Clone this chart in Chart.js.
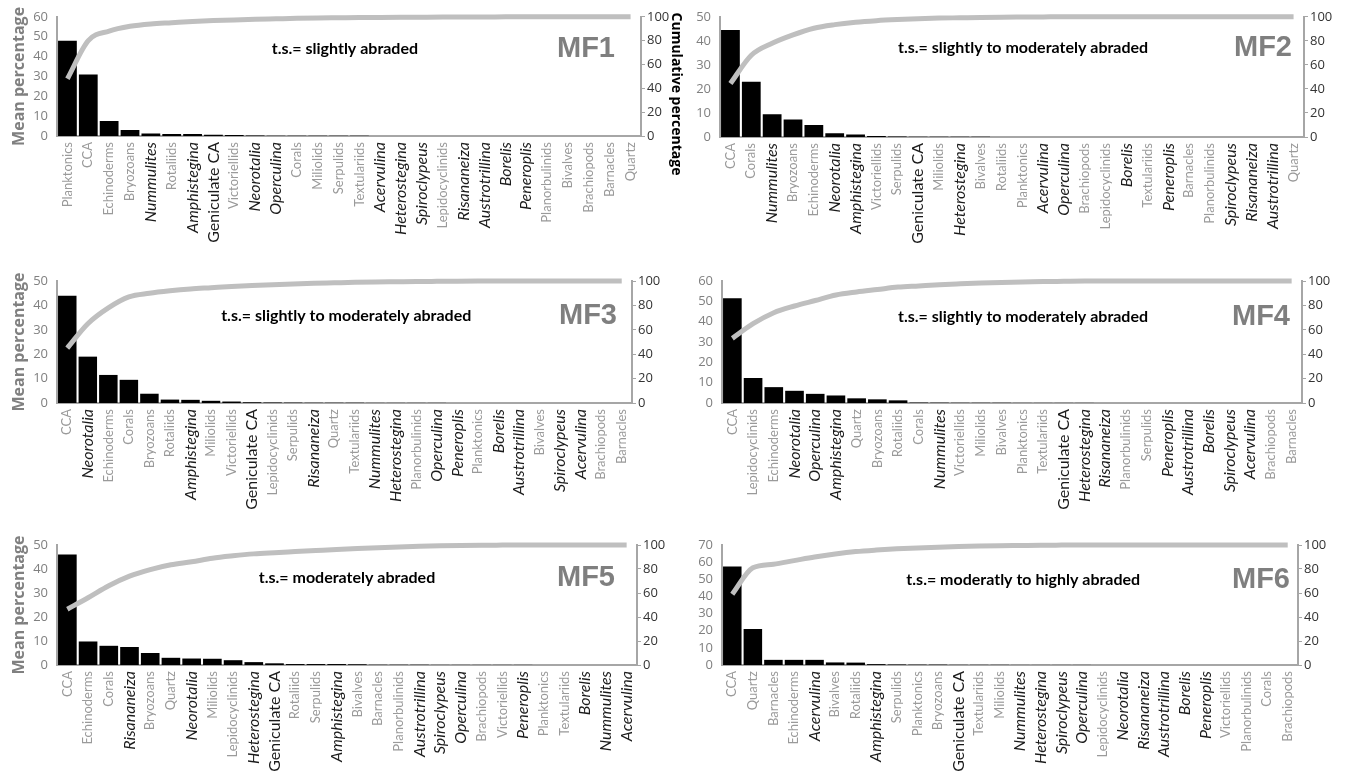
<!DOCTYPE html>
<html>
<head>
<meta charset="utf-8">
<title>Mean and cumulative percentages, MF1-MF6</title>
<script src="https://cdn.jsdelivr.net/npm/chart.js@4.4.1/dist/chart.umd.min.js"></script>
<style>
body { margin: 0; background: #fff; width: 1345px; height: 774px; overflow: hidden; position: relative; }
canvas { position: absolute; }
</style>
</head>
<body>
<canvas id="mf1" width="700" height="262" style="left:0;top:0"></canvas>
<canvas id="mf2" width="680" height="262" style="left:665px;top:0"></canvas>
<canvas id="mf3" width="680" height="254" style="left:0;top:262px"></canvas>
<canvas id="mf4" width="680" height="254" style="left:665px;top:262px"></canvas>
<canvas id="mf5" width="680" height="254" style="left:0;top:520px"></canvas>
<canvas id="mf6" width="680" height="254" style="left:665px;top:520px"></canvas>
<script>
// categories, mean % (bars) and cumulative % (line) for each microfacies
let labels1 = ['Planktonics', 'CCA', 'Echinoderms', 'Bryozoans', 'Nummulites', 'Rotaliids', 'Amphistegina', 'Geniculate CA', 'Victoriellids', 'Neorotalia', 'Operculina', 'Corals', 'Miliolids', 'Serpulids', 'Textulariids', 'Acervulina', 'Heterostegina', 'Spiroclypeus', 'Lepidocyclinids', 'Risananeiza', 'Austrotrillina', 'Borelis', 'Peneroplis', 'Planorbulinids', 'Bivalves', 'Brachiopods', 'Barnacles', 'Quartz'];
let mean1 = [48, 31, 7.5, 3, 1.2, 1, 1, 0.6, 0.5, 0.2, 0.1, 0.1, 0.1, 0.1, 0.1, 0.05, 0.05, 0.05, 0.05, 0.05, 0.05, 0.05, 0.05, 0, 0, 0, 0, 0];
let cum1 = [48, 80, 88, 92, 94, 95, 96, 96.8, 97.4, 97.9, 98.3, 98.7, 99, 99.2, 99.4, 99.5, 99.6, 99.7, 99.8, 99.85, 99.9, 99.95, 100, 100, 100, 100, 100, 100];

let labels2 = ['CCA', 'Corals', 'Nummulites', 'Bryozoans', 'Echinoderms', 'Neorotalia', 'Amphistegina', 'Victoriellids', 'Serpulids', 'Geniculate CA', 'Miliolids', 'Heterostegina', 'Bivalves', 'Rotaliids', 'Planktonics', 'Acervulina', 'Operculina', 'Brachiopods', 'Lepidocyclinids', 'Borelis', 'Textulariids', 'Peneroplis', 'Barnacles', 'Planorbulinids', 'Spiroclypeus', 'Risananeiza', 'Austrotrillina', 'Quartz'];
let mean2 = [44.5, 23, 9.5, 7.3, 5, 1.6, 1, 0.4, 0.2, 0.15, 0.1, 0.1, 0.1, 0.05, 0.05, 0.05, 0.05, 0, 0, 0, 0, 0, 0, 0, 0, 0, 0, 0];
let cum2 = [44.5, 68, 78, 85, 90.5, 93.5, 95.5, 96.8, 97.7, 98.4, 98.9, 99.2, 99.5, 99.7, 99.8, 99.9, 100, 100, 100, 100, 100, 100, 100, 100, 100, 100, 100, 100];

let labels3 = ['CCA', 'Neorotalia', 'Echinoderms', 'Corals', 'Bryozoans', 'Rotaliids', 'Amphistegina', 'Miliolids', 'Victoriellids', 'Geniculate CA', 'Lepidocyclinids', 'Serpulids', 'Risananeiza', 'Quartz', 'Textulariids', 'Nummulites', 'Heterostegina', 'Planorbulinids', 'Operculina', 'Peneroplis', 'Planktonics', 'Borelis', 'Austrotrillina', 'Bivalves', 'Spiroclypeus', 'Acervulina', 'Brachiopods', 'Barnacles'];
let mean3 = [44, 19, 11.5, 9.5, 3.8, 1.4, 1.3, 0.9, 0.6, 0.3, 0.2, 0.15, 0.1, 0.1, 0.1, 0.05, 0.05, 0.05, 0.05, 0, 0, 0, 0, 0, 0, 0, 0, 0];
let cum3 = [45, 65, 78, 87, 90, 92, 93.5, 94.5, 95.5, 96.3, 97, 97.6, 98.1, 98.5, 98.9, 99.2, 99.4, 99.6, 99.7, 99.8, 99.9, 100, 100, 100, 100, 100, 100, 100];

let labels4 = ['CCA', 'Lepidocyclinids', 'Echinoderms', 'Neorotalia', 'Operculina', 'Amphistegina', 'Quartz', 'Bryozoans', 'Rotaliids', 'Corals', 'Nummulites', 'Victoriellids', 'Miliolids', 'Bivalves', 'Planktonics', 'Textulariids', 'Geniculate CA', 'Heterostegina', 'Risananeiza', 'Planorbulinids', 'Serpulids', 'Peneroplis', 'Austrotrillina', 'Borelis', 'Spiroclypeus', 'Acervulina', 'Brachiopods', 'Barnacles'];
let mean4 = [51.5, 12.3, 7.8, 6, 4.5, 3.7, 2.3, 1.8, 1.3, 0.2, 0.15, 0.1, 0.1, 0.1, 0.05, 0.05, 0.05, 0.05, 0, 0, 0, 0, 0, 0, 0, 0, 0, 0];
let cum4 = [53, 65, 74, 79.5, 84, 88.5, 91, 93, 95, 96, 97, 97.7, 98.3, 98.8, 99.2, 99.5, 99.7, 99.9, 100, 100, 100, 100, 100, 100, 100, 100, 100, 100];

let labels5 = ['CCA', 'Echinoderms', 'Corals', 'Risananeiza', 'Bryozoans', 'Quartz', 'Neorotalia', 'Miliolids', 'Lepidocyclinids', 'Heterostegina', 'Geniculate CA', 'Rotaliids', 'Serpulids', 'Amphistegina', 'Bivalves', 'Barnacles', 'Planorbulinids', 'Austrotrillina', 'Spiroclypeus', 'Operculina', 'Brachiopods', 'Victoriellids', 'Peneroplis', 'Planktonics', 'Textulariids', 'Borelis', 'Nummulites', 'Acervulina'];
let mean5 = [46, 9.8, 8, 7.5, 5, 3, 2.7, 2.6, 2, 1.2, 0.7, 0.4, 0.4, 0.4, 0.3, 0.1, 0.1, 0.1, 0.05, 0.05, 0.05, 0.05, 0.05, 0, 0, 0, 0, 0];
let cum5 = [46.5, 56, 66, 74, 79.5, 83.5, 86, 89, 91, 92.6, 93.6, 94.5, 95.4, 96.3, 97.1, 97.8, 98.4, 98.9, 99.3, 99.6, 99.8, 99.9, 100, 100, 100, 100, 100, 100];

let labels6 = ['CCA', 'Quartz', 'Barnacles', 'Echinoderms', 'Acervulina', 'Bivalves', 'Rotaliids', 'Amphistegina', 'Serpulids', 'Planktonics', 'Bryozoans', 'Geniculate CA', 'Textulariids', 'Miliolids', 'Nummulites', 'Heterostegina', 'Spiroclypeus', 'Operculina', 'Lepidocyclinids', 'Neorotalia', 'Risananeiza', 'Austrotrillina', 'Borelis', 'Peneroplis', 'Victoriellids', 'Planorbulinids', 'Corals', 'Brachiopods'];
let mean6 = [57.5, 21, 3, 3, 3, 1.5, 1.4, 0.5, 0.3, 0.2, 0.2, 0.1, 0.1, 0.1, 0.05, 0.05, 0.05, 0.05, 0, 0, 0, 0, 0, 0, 0, 0, 0, 0];
let cum6 = [59, 81, 84, 87, 90, 92.5, 94.5, 95.8, 96.8, 97.6, 98.2, 98.7, 99.1, 99.4, 99.6, 99.8, 99.9, 100, 100, 100, 100, 100, 100, 100, 100, 100, 100, 100];

// genera are written in italics, Geniculate CA is dark but upright
let genera = ['Nummulites', 'Amphistegina', 'Neorotalia', 'Operculina', 'Acervulina', 'Heterostegina', 'Spiroclypeus', 'Risananeiza', 'Austrotrillina', 'Borelis', 'Peneroplis'];
let darkLabels = genera.concat(['Geniculate CA']);

let axisGrey = '#a6a6a6';

// texts inside the plot: abrasion note, MF tag, and the right axis title of MF1
let notesPlugin = {
    id: 'notes',
    afterDraw(chart, args, opts) {
        let ctx = chart.ctx;
        let a = chart.chartArea;
        ctx.save();
        ctx.textBaseline = 'middle';
        ctx.fillStyle = '#000';
        ctx.textAlign = 'center';
        ctx.font = 'bold 16px Lato';
        ctx.fillText(opts.text, a.left + (a.right - a.left) * opts.cx, a.top + opts.dy);
        ctx.fillStyle = '#7f7f7f';
        ctx.textAlign = 'right';
        ctx.font = 'bold 29px "Liberation Sans"';
        ctx.fillText(opts.tag, a.right - opts.tagGap, a.top + opts.dy);
        if (opts.rightTitle) {
            ctx.translate(a.right + 35, 94);
            ctx.rotate(Math.PI / 2);
            ctx.textAlign = 'center';
            ctx.fillStyle = '#000';
            ctx.font = 'bold 14px "Open Sans"';
            ctx.fillText(opts.rightTitle, 0, 0);
        }
        ctx.restore();
    }
};

function makePanel(id, labels, mean, cum, p) {
    let ctx = document.getElementById(id).getContext('2d');
    return new Chart(ctx, {
        data: {
            labels: labels,
            datasets: [{
                type: 'line',
                label: 'Cumulative percentage',
                data: cum,
                yAxisID: 'y1',
                borderColor: '#bfbfbf',
                borderWidth: 5,
                pointRadius: 0,
                cubicInterpolationMode: 'monotone',
                clip: false,
                order: 0,
            }, {
                type: 'bar',
                label: 'Mean percentage',
                data: mean,
                yAxisID: 'y',
                backgroundColor: '#000',
                categoryPercentage: 1,
                barPercentage: 0.9,
                order: 1,
            }]
        },
        options: {
            responsive: false,
            animation: false,
            layout: { padding: { top: p.top, left: 0, right: 0, bottom: 0 } },
            plugins: {
                legend: { display: false },
                tooltip: { enabled: false },
                notes: p.notes,
            },
            scales: {
                x: {
                    grid: { display: false, drawTicks: false },
                    border: { color: axisGrey, width: 2 },
                    afterFit: function (s) { s.height = p.xH; },
                    ticks: {
                        autoSkip: false,
                        minRotation: 90,
                        maxRotation: 90,
                        padding: 6,
                        color: function (c) {
                            return darkLabels.includes(c.chart.data.labels[c.index]) ? '#1a1a1a' : '#9a9a9a';
                        },
                        font: function (c) {
                            let name = c.chart.data.labels[c.index];
                            if (genera.includes(name)) return { family: 'Lato', size: 16, style: 'italic' };
                            if (name === 'Geniculate CA') return { family: 'Lato', size: 16 };
                            return { family: 'Lato', size: 13 };
                        },
                    },
                },
                y: {
                    position: 'left',
                    min: 0,
                    max: p.max,
                    grid: { display: false, drawTicks: false },
                    border: { color: axisGrey, width: 2 },
                    afterFit: function (s) { s.width = p.left; },
                    ticks: { stepSize: 10, autoSkip: false, padding: 9, color: '#808080', font: { family: 'Open Sans', size: 13 } },
                    title: {
                        display: !!p.yTitle,
                        text: p.yTitle || '',
                        color: '#808080',
                        padding: { top: 10, bottom: 0 },
                        font: { family: 'Open Sans', size: 16, weight: 'bold' },
                    },
                },
                y1: {
                    position: 'right',
                    min: 0,
                    max: 100,
                    grid: { display: true, drawOnChartArea: false, drawTicks: true, tickLength: 4, color: axisGrey },
                    border: { color: axisGrey, width: 2 },
                    afterFit: function (s) { s.width = p.rightW; },
                    ticks: { stepSize: 20, autoSkip: false, padding: 2, color: '#333', font: { family: 'Open Sans', size: 13 } },
                },
            },
        },
        plugins: [notesPlugin],
    });
}

makePanel('mf1', labels1, mean1, cum1, {
    top: 16, left: 57, rightW: 59, xH: 126, max: 60, yTitle: 'Mean percentage',
    notes: { text: 't.s.= slightly abraded', tag: 'MF1', cx: 0.493, dy: 32, tagGap: 26, rightTitle: 'Cumulative percentage' },
});
makePanel('mf2', labels2, mean2, cum2, {
    top: 16, left: 55, rightW: 41, xH: 125, max: 50,
    notes: { text: 't.s.= slightly to moderately abraded', tag: 'MF2', cx: 0.519, dy: 31, tagGap: 12 },
});
makePanel('mf3', labels3, mean3, cum3, {
    top: 19, left: 57, rightW: 48, xH: 113, max: 50, yTitle: 'Mean percentage',
    notes: { text: 't.s.= slightly to moderately abraded', tag: 'MF3', cx: 0.503, dy: 35, tagGap: 15 },
});
makePanel('mf4', labels4, mean4, cum4, {
    top: 19, left: 57, rightW: 43, xH: 113, max: 60,
    notes: { text: 't.s.= slightly to moderately abraded', tag: 'MF4', cx: 0.519, dy: 36, tagGap: 12 },
});
makePanel('mf5', labels5, mean5, cum5, {
    top: 25, left: 57, rightW: 43, xH: 109, max: 50, yTitle: 'Mean percentage',
    notes: { text: 't.s.= moderately abraded', tag: 'MF5', cx: 0.5, dy: 33, tagGap: 22 },
});
makePanel('mf6', labels6, mean6, cum6, {
    top: 25, left: 57, rightW: 47, xH: 109, max: 70,
    notes: { text: 't.s.= moderatly to highly abraded', tag: 'MF6', cx: 0.523, dy: 35, tagGap: 8 },
});
</script>
</body>
</html>
